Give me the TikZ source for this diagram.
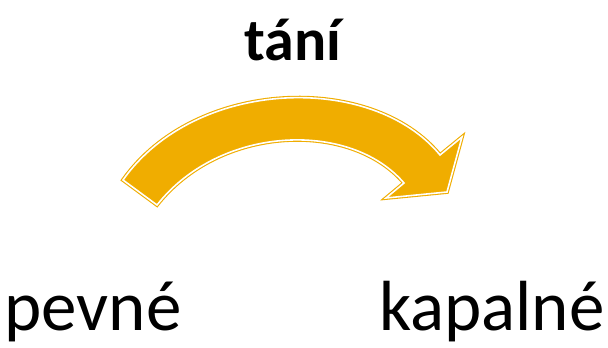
\documentclass[tikz,border=0pt]{standalone}
\usepackage{fontspec}
\setmainfont{Carlito}
\usepackage{tikz}
\definecolor{meltorange}{HTML}{F0AD00}
\tikzset{arrowband/.style={fill=meltorange,draw=meltorange,double=white,double distance=1.6pt,line width=1.1pt,line join=miter},
  lbl/.style={anchor=base,inner sep=0pt,font=\fontsize{71}{76}\selectfont}}

\begin{document}
\begin{tikzpicture}[x=1pt,y=-1pt]
\useasboundingbox (0,0) rectangle (608,348);
\coordinate (T1) at (123,180); \coordinate (T2) at (157,205);
\coordinate (N1) at (440,155); \coordinate (B1) at (462,137); \coordinate (P) at (447,192);
\coordinate (B2) at (386,198); \coordinate (N2) at (404,183);
\draw[arrowband] (T1) .. controls (195,78) and (372,72) .. (N1) -- (B1) -- (P) -- (B2) -- (N2)
  .. controls (350,120) and (220,125) .. (T2) -- cycle;
\node[lbl,font=\bfseries\fontsize{60}{66}\selectfont] (title) at (293,60) {tání};
\node[lbl] (solid) at (93,330) {pevné};
\node[lbl] (liquid) at (492,330) {kapalné};
\end{tikzpicture}
\end{document}
